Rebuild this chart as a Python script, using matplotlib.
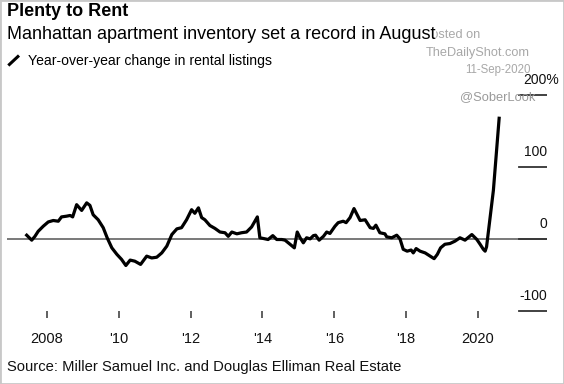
#Plenty to Rent - Manhattan rental listings, year-over-year change

import matplotlib
matplotlib.use("Agg")
import matplotlib.pyplot as plt
from matplotlib.patches import Rectangle
from matplotlib.lines import Line2D

plt.rcParams['font.family'] = ['Liberation Sans', 'DejaVu Sans']

#Dados (ano decimal, variação em %)
years = [2007.44, 2007.58, 2007.67, 2007.76, 2007.90, 2008.04, 2008.18, 2008.32, 2008.41, 2008.55,
         2008.65, 2008.72, 2008.83, 2008.97, 2009.11, 2009.20, 2009.29, 2009.43, 2009.57, 2009.68,
         2009.81, 2009.95, 2010.08, 2010.20, 2010.32, 2010.45, 2010.61, 2010.78, 2010.92, 2011.06,
         2011.20, 2011.34, 2011.48, 2011.62, 2011.75, 2011.89, 2012.03, 2012.12, 2012.22, 2012.31,
         2012.40, 2012.54, 2012.68, 2012.82, 2012.96, 2013.05, 2013.15, 2013.29, 2013.42, 2013.56,
         2013.70, 2013.86, 2013.93, 2014.03, 2014.16, 2014.29, 2014.40, 2014.54, 2014.63, 2014.77,
         2014.89, 2014.97, 2015.05, 2015.14, 2015.23, 2015.33, 2015.42, 2015.48, 2015.58, 2015.70,
         2015.79, 2015.88, 2016.02, 2016.11, 2016.25, 2016.33, 2016.44, 2016.55, 2016.72, 2016.86,
         2017.00, 2017.09, 2017.16, 2017.27, 2017.41, 2017.46, 2017.60, 2017.74, 2017.83, 2017.92,
         2018.03, 2018.14, 2018.20, 2018.28, 2018.39, 2018.53, 2018.67, 2018.78, 2018.87, 2018.96,
         2019.08, 2019.22, 2019.36, 2019.50, 2019.64, 2019.83, 2019.97, 2020.06, 2020.15, 2020.20,
         2020.24, 2020.43, 2020.59]
change = [4.6, -2.3, 3, 10, 17, 23, 25, 24, 30, 31,
          32, 30, 47, 39, 49.5, 46, 33, 26, 15, 1,
          -13, -22, -29, -37.5, -30, -31.5, -36, -24.5, -27, -26,
          -20, -10.6, 5.5, 13.4, 15, 26, 40, 35, 42.6, 29,
          26, 18, 14, 9, 8, 3, 9, 6.5, 8, 9,
          16, 30, 1, 0, -1.4, 4, -1.4, -1.4, -2.3, -8,
          -13, 9, 1, -6, 1, -0.5, 4, 4.6, -2.3, 3,
          9, 7, 17, 22, 24, 22, 29, 41.6, 25, 26,
          15, 14, 18.5, 8, 6.5, 2.3, 1, 4.6, -0.5, -15,
          -17.6, -16, -20, -14, -17.6, -20, -24.5, -28, -22, -13,
          -8, -7, -3.7, 1, -2.3, 5.5, -1.4, -8, -15, -17.6,
          -11.5, 67, 167]

xtick_pos = [2008, 2010, 2012, 2014, 2016, 2018, 2020]
xtick_labels = ["2008", "'10", "'12", "'14", "'16", "'18", "2020"]
ytick_pos = [200, 100, 0, -100]
ytick_labels = ["200%", "100", "0", "-100"]

W, H = 564, 384
fig = plt.figure(figsize=(W / 100, H / 100), dpi=100)

#Eixo posicionado em pixels (esquerda 7, direita 547, topo 80, base 318)
ax = fig.add_axes([7 / W, 1 - 318 / H, 540 / W, 238 / H])
ax.set_xlim(2006.892, 2021.922)
ax.set_ylim((238.5 - 318) / 0.72, (238.5 - 80) / 0.72)

ax.axhline(0, color='#6e6e6e', lw=1.3, zorder=1)
for v, lab in zip(ytick_pos, ytick_labels):
    ax.axhline(v, xmin=(519 - 7) / 540, xmax=1, color='#333333', lw=1.3, zorder=1)
    xr = 1 + 12 / 540 if lab.endswith('%') else 1
    ax.text(xr, v + 14.5 / 0.72, lab, transform=ax.get_yaxis_transform(),
            ha='right', va='center', fontsize=10, color='#111111')

ax.plot(years, change, color='black', lw=2.3, solid_joinstyle='round', zorder=3)

for s in ax.spines.values():
    s.set_visible(False)
ax.set_yticks([])
ax.set_xticks(xtick_pos)
ax.set_xticklabels(xtick_labels)
ax.tick_params(axis='x', direction='in', length=5.4, width=1.2, color='#444444',
               pad=10, labelsize=10.5, labelcolor='#111111')

#Marcas d'água (atrás do subtítulo)
wm = '#a8a8a8'
fig.text(480 / W, 1 - 35 / H, "Posted on", fontsize=9.2, color=wm, ha='right', va='center', zorder=1)
fig.text(530 / W, 1 - 53 / H, "TheDailyShot.com", fontsize=9.2, color=wm, ha='right', va='center')
fig.text(531 / W, 1 - 70 / H, "11-Sep-2020", fontsize=8.3, color=wm, ha='right', va='center')
fig.text(535 / W, 1 - 97 / H, "@SoberLook", fontsize=9.3, color='#9a9a9a', ha='right', va='center')

#Títulos e textos
fig.text(7 / W, 1 - 3 / H, "Plenty to Rent", fontsize=13, fontweight='bold', va='top', ha='left')
fig.text(7 / W, 1 - 26 / H, "Manhattan apartment inventory set a record in August",
         fontsize=13, va='top', ha='left', zorder=5,
         bbox=dict(facecolor='white', edgecolor='none', pad=0))
fig.text(28 / W, 1 - 61.5 / H, "Year-over-year change in rental listings", fontsize=10.1,
         va='center', ha='left')
fig.add_artist(Line2D([8.3 / W, 19 / W], [1 - 65.5 / H, 1 - 55.5 / H], color='black', lw=2.2,
                      solid_capstyle='butt'))

fig.text(7 / W, 1 - 366.5 / H, "Source: Miller Samuel Inc. and Douglas Elliman Real Estate",
         fontsize=10.6, va='center', ha='left', color='#111111')

fig.add_artist(Rectangle((0, 0), 1, 1, transform=fig.transFigure, fill=False,
                         ec='#c8c8c8', lw=2))

fig.savefig('out.png', dpi=100)
